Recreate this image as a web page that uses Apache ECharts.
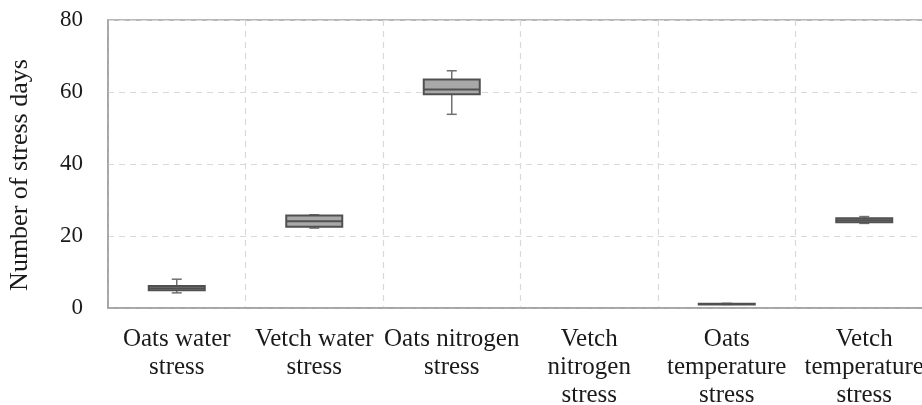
<!DOCTYPE html>
<html>
<head>
<meta charset="utf-8">
<script src="https://cdn.jsdelivr.net/npm/echarts@6/dist/echarts.min.js"></script>
<style>
  html, body { margin: 0; padding: 0; background: #fff; }
  #stress-chart { width: 922px; height: 405px; }
</style>
</head>
<body>
<div id="stress-chart"></div>
<script>
  // categories on the x axis
  const categories = [
    'Oats water\nstress',
    'Vetch water\nstress',
    'Oats nitrogen\nstress',
    'Vetch\nnitrogen\nstress',
    'Oats\ntemperature\nstress',
    'Vetch\ntemperature\nstress'
  ]
  // [min, Q1, median, Q3, max] (null = no box drawn)
  const boxValues = [
    [4.2, 4.9, 5.5, 6.1, 8.0],
    [22.2, 22.6, 24.1, 25.7, 25.9],
    [53.8, 59.4, 60.7, 63.5, 65.9],
    null,
    [1.0, 1.0, 1.1, 1.2, 1.3],
    [23.5, 23.8, 24.4, 24.9, 25.4]
  ]
  const yTicks = [0, 20, 40, 60, 80]

  const chart = echarts.init(document.getElementById('stress-chart'))
  const font = 'Liberation Serif'

  // custom series data: [category index, min, q1, median, q3, max]
  const boxData = []
  boxValues.forEach((v, i) => {
    if (v) boxData.push([i].concat(v))
  })

  function renderBox(params, api) {
    const idx = api.value(0)
    const x = api.coord([idx, 0])[0]
    const y = [1, 2, 3, 4, 5].map(d => api.coord([idx, api.value(d)])[1])
    const half = 28
    const cap = 5
    const whisker = { stroke: '#707070', lineWidth: 1.5 }
    const dark = { stroke: '#505050', lineWidth: 2 }
    return {
      type: 'group',
      children: [
        { type: 'line', shape: { x1: x, y1: y[4], x2: x, y2: y[3] }, style: whisker },
        { type: 'line', shape: { x1: x, y1: y[1], x2: x, y2: y[0] }, style: whisker },
        { type: 'line', shape: { x1: x - cap, y1: y[4], x2: x + cap, y2: y[4] }, style: whisker },
        { type: 'line', shape: { x1: x - cap, y1: y[0], x2: x + cap, y2: y[0] }, style: whisker },
        {
          type: 'rect',
          shape: { x: x - half, y: y[3], width: half * 2, height: y[1] - y[3] },
          style: { fill: '#a8a8a8', stroke: '#505050', lineWidth: 2 }
        },
        { type: 'line', shape: { x1: x - half, y1: y[2], x2: x + half, y2: y[2] }, style: dark }
      ]
    }
  }

  const option = {
    animation: false,
    grid: {
      left: 108,
      top: 20,
      right: -11,
      bottom: 97,
      containLabel: false,
      outerBoundsMode: 'none',
      show: true,
      borderColor: '#a0a0a0',
      borderWidth: 1.5
    },
    xAxis: {
      type: 'category',
      data: categories,
      boundaryGap: true,
      axisLine: { lineStyle: { color: '#a0a0a0', width: 1.5 } },
      axisTick: { show: false },
      axisLabel: {
        interval: 0,
        margin: 17,
        fontFamily: font,
        fontSize: 25,
        lineHeight: 28,
        color: '#1a1a1a'
      },
      splitLine: {
        show: true,
        interval: 0,
        lineStyle: { color: '#d9d9d9', type: [6, 5], width: 1.2 }
      }
    },
    yAxis: {
      type: 'value',
      min: yTicks[0],
      max: yTicks[yTicks.length - 1],
      interval: 20,
      name: 'Number of stress days',
      nameLocation: 'middle',
      nameGap: 75,
      nameTextStyle: {
        fontFamily: font,
        fontSize: 26,
        color: '#1a1a1a',
        padding: [0, 22, 0, 0]
      },
      axisLine: { show: true, lineStyle: { color: '#a0a0a0', width: 1.5 } },
      axisTick: { show: false },
      axisLabel: {
        margin: 25,
        fontFamily: font,
        fontSize: 23,
        color: '#1a1a1a'
      },
      splitLine: {
        lineStyle: { color: '#d9d9d9', type: [6, 5], width: 1.2 }
      }
    },
    series: [
      {
        type: 'custom',
        renderItem: renderBox,
        data: boxData,
        encode: { x: 0, y: [1, 2, 3, 4, 5] },
        clip: false
      }
    ]
  }
  chart.setOption(option)
</script>
</body>
</html>
